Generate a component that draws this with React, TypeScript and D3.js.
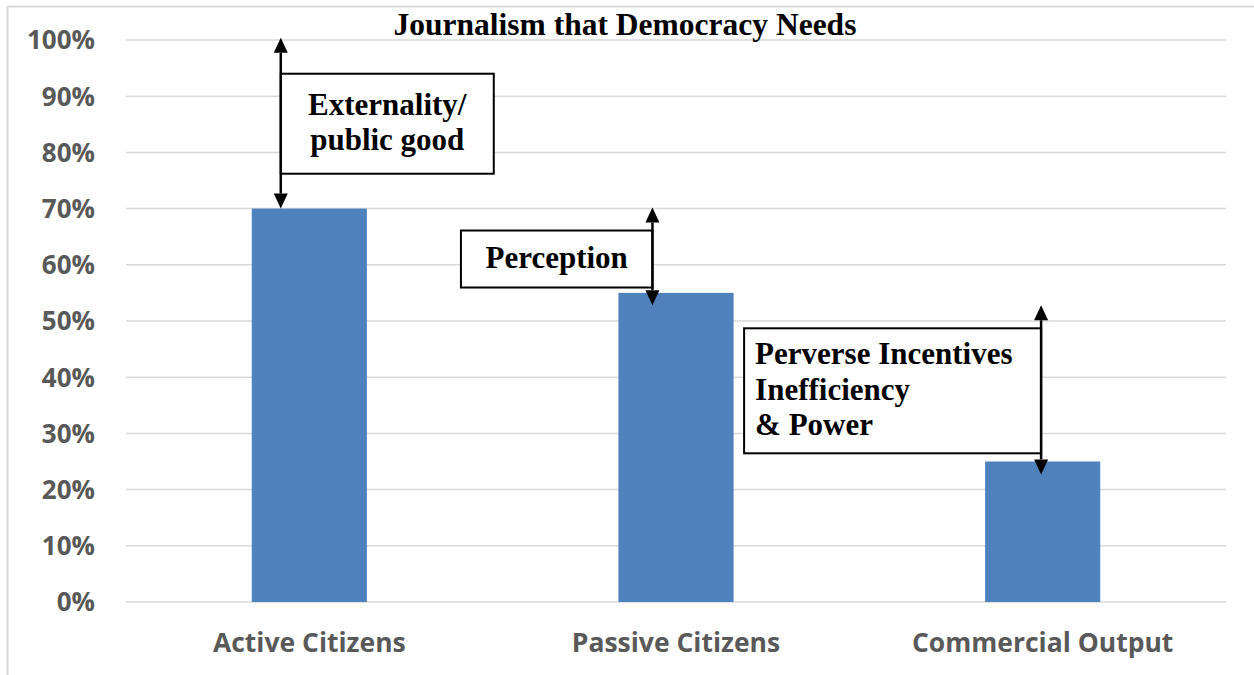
import React from "react";
import * as d3 from "d3";

const categories = ["Active Citizens", "Passive Citizens", "Commercial Output"];
const values = [70, 55, 25];
const yTicks = [0, 10, 20, 30, 40, 50, 60, 70, 80, 90, 100];
const title = "Journalism that Democracy Needs";

// annotation arrows: category index, from value, to value
const arrowCats = [0, 1, 2];
const arrowFrom = [100.4, 70.2, 52.8];
const arrowTo = [70, 52.8, 22.7];
const arrowOffset = [29, 34, 56];
const labelLines = [["Externality/", "public good"], ["Perception"], ["Perverse Incentives", "Inefficiency", "& Power"]];

const W = 1254, H = 675;
const margin = { left: 126, right: 28, top: 40, bottom: 73 };

export default function App() {
  const x = d3.scaleBand<string>().domain(categories).range([margin.left, W - margin.right]).paddingInner(0.686).paddingOuter(0.343);
  const y = d3.scaleLinear().domain([0, 100]).range([H - margin.bottom, margin.top]);
  const serif = "'Liberation Serif', 'Times New Roman', serif";
  const sans = "'Open Sans', 'Liberation Sans', sans-serif";

  // box definitions in pixel offsets relative to arrow x (style only)
  const boxes = [
    { dx: 0, w: 213, top: y(94), h: 100, align: "middle" },
    { dx: -191.5, w: 191.5, top: y(66.1), h: 57, align: "middle" },
    { dx: -297, w: 297, top: y(48.7), h: 125, align: "start" },
  ];

  return (
    <div style={{ position: "fixed", left: 0, top: 0 }}>
      <svg width={W} height={H} style={{ display: "block", background: "#fff" }}>
        <line x1={7.5} x2={W} y1={6.5} y2={6.5} stroke="#d9d9d9" strokeWidth={2} />
        <line x1={7.5} x2={7.5} y1={6.5} y2={H} stroke="#d9d9d9" strokeWidth={2} />
        {yTicks.map((t) => (
          <g key={t}>
            <line x1={margin.left} x2={W - margin.right} y1={y(t)} y2={y(t)} stroke="#d9d9d9" strokeWidth={1.5} />
            <text x={95} y={y(t)} dy="0.36em" textAnchor="end" fontFamily={sans} fontWeight={700} fontSize={26} fill="#595959">
              {t}%
            </text>
          </g>
        ))}
        {categories.map((c, i) => (
          <g key={c}>
            <rect x={x(c)} y={y(values[i])} width={x.bandwidth()} height={y(0) - y(values[i])} fill="#4f81bd" />
            <text x={(x(c) as number) + x.bandwidth() / 2} y={652} textAnchor="middle" fontFamily={sans} fontWeight={700} fontSize={26.5} fill="#595959">
              {c}
            </text>
          </g>
        ))}
        <text x={625} y={35} textAnchor="middle" fontFamily={serif} fontWeight={700} fontSize={31.5} fill="#000">
          {title}
        </text>
        {arrowCats.map((ci, i) => {
          const ax = (x(categories[ci]) as number) + arrowOffset[i];
          const y1 = y(arrowFrom[i]);
          const y2 = y(arrowTo[i]);
          const hw = 7, hh = 15;
          const b = boxes[i];
          const bx = ax + b.dx;
          const lines = labelLines[i];
          const lh = 35.5;
          const tx = b.align === "middle" ? bx + b.w / 2 : bx + 11;
          const startY = b.top + b.h / 2 - ((lines.length - 1) * lh) / 2 + 9;
          return (
            <g key={i}>
              <rect x={bx} y={b.top} width={b.w} height={b.h} fill="#fff" stroke="#000" strokeWidth={2} />
              {lines.map((l, k) => (
                <text key={k} x={tx} y={startY + k * lh} textAnchor={b.align} fontFamily={serif} fontWeight={700} fontSize={31} fill="#000">
                  {l}
                </text>
              ))}
              <line x1={ax} x2={ax} y1={y1 + hh} y2={y2 - hh} stroke="#000" strokeWidth={2.5} />
              <path d={`M${ax},${y1} L${ax - hw},${y1 + hh} L${ax + hw},${y1 + hh} Z`} fill="#000" />
              <path d={`M${ax},${y2} L${ax - hw},${y2 - hh} L${ax + hw},${y2 - hh} Z`} fill="#000" />
            </g>
          );
        })}
      </svg>
    </div>
  );
}
